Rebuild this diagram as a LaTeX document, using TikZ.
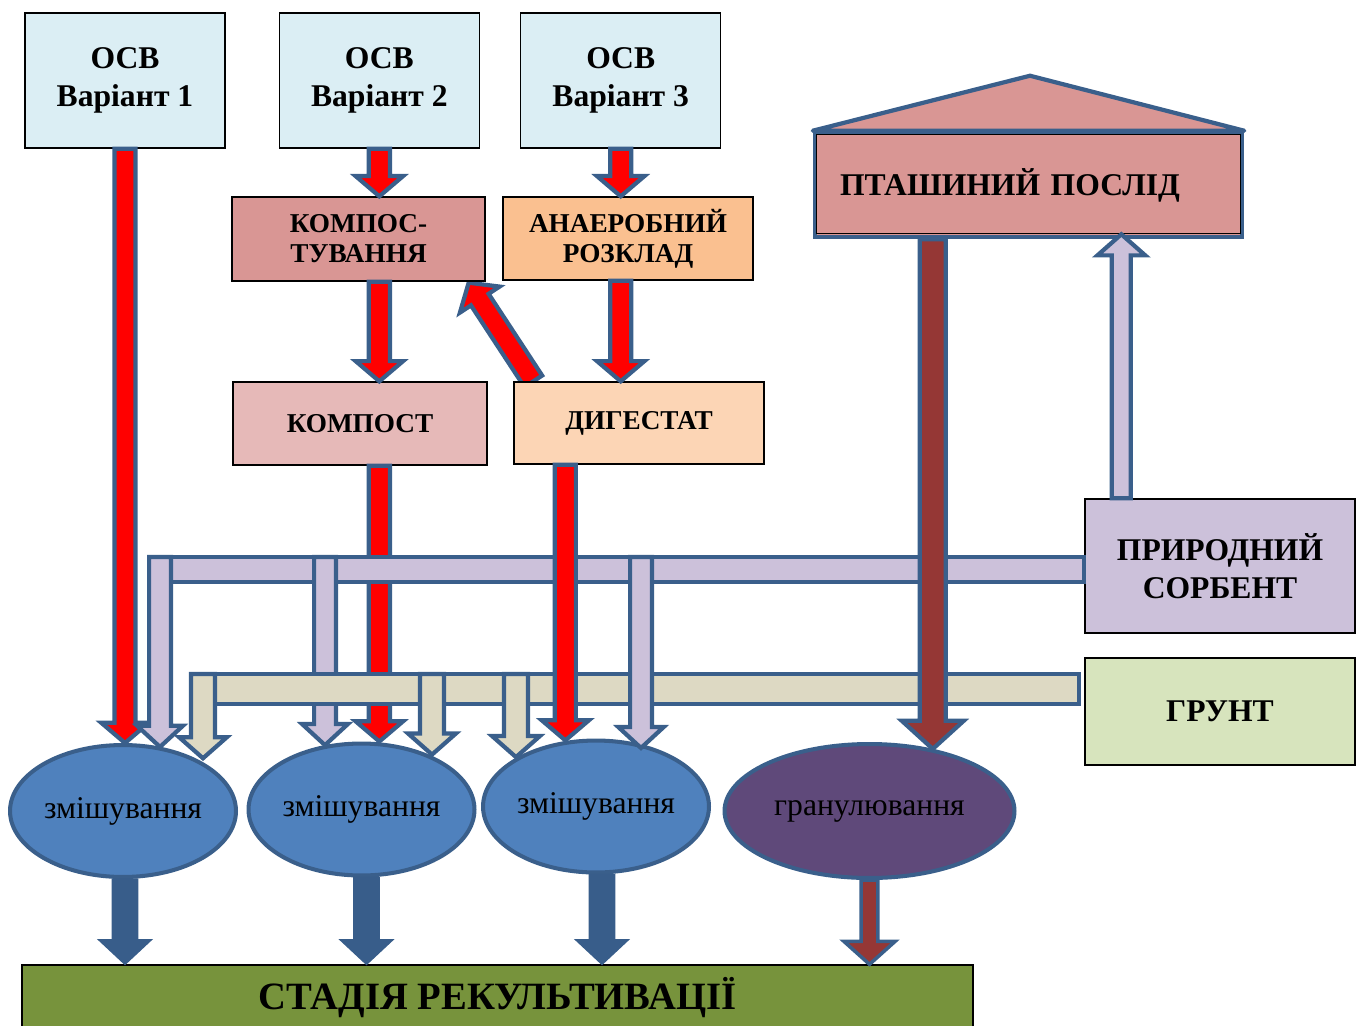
\documentclass[tikz,border=0pt]{standalone}
\usepackage{fontspec}
\setmainfont{Liberation Serif}
\usetikzlibrary{positioning, calc, shapes.geometric, backgrounds}

\definecolor{osvfill}{HTML}{DBEEF4}
\definecolor{kompfill}{HTML}{D99694}
\definecolor{anaerfill}{HTML}{FAC090}
\definecolor{kompostfill}{HTML}{E6B9B8}
\definecolor{digestfill}{HTML}{FCD5B5}
\definecolor{sorbfill}{HTML}{CCC1DA}
\definecolor{gruntfill}{HTML}{D7E4BD}
\definecolor{beigefill}{HTML}{DDD9C3}
\definecolor{mixfill}{HTML}{4F81BD}
\definecolor{granfill}{HTML}{5F497A}
\definecolor{stagefill}{HTML}{77933C}
\definecolor{edgeblue}{HTML}{3A5F8B}
\definecolor{darkblue}{HTML}{385D8A}
\definecolor{brownfill}{HTML}{953735}

\begin{document}
\begin{tikzpicture}[x=0.02cm, y=-0.02cm, node distance=1.06cm,
  box/.style={rectangle, draw=black, line width=0.8pt, align=center, inner sep=2pt},
  bigtext/.style={font=\bfseries\fontsize{18}{21.5}\selectfont},
  smalltext/.style={font=\bfseries\fontsize{15.5}{17}\selectfont},
  mix/.style={ellipse, draw=edgeblue, line width=2.3pt, fill=mixfill, minimum width=4.52cm, minimum height=2.64cm, inner sep=0pt, font=\fontsize{18}{20}\selectfont},
  barrow/.style n args={3}{draw=edgeblue, line width=2.4pt,
    to path={let \p1=(\tikztostart), \p2=(\tikztotarget), \n1={atan2(\y2-\y1,\x2-\x1)} in
      ($(\p1)+({\n1+90}:#1)$) -- ($(\p2)+({\n1+180}:#3)+({\n1+90}:#1)$)
      -- ($(\p2)+({\n1+180}:#3)+({\n1+90}:#2)$) -- (\p2)
      -- ($(\p2)+({\n1+180}:#3)+({\n1-90}:#2)$)
      -- ($(\p2)+({\n1+180}:#3)+({\n1-90}:#1)$)
      -- ($(\p1)+({\n1-90}:#1)$) -- cycle}},
  redarrow/.style={barrow={6pt}{13.5pt}{11.5pt}, fill=red},
  lilarrow/.style={barrow={6.2pt}{13pt}{12pt}, fill=sorbfill},
  beigearrow/.style={barrow={6.8pt}{13.6pt}{12pt}, fill=beigefill},
  outarrow/.style={barrow={7.2pt}{15pt}{14pt}, draw=darkblue, line width=0.8pt, fill=darkblue},
  bus/.style={draw=edgeblue, line width=2.4pt}]
\useasboundingbox (0,0) rectangle (1362,1025);

\node (osv1) [box, bigtext, fill=osvfill, minimum width=4cm, minimum height=2.7cm] at (125,80.5) {ОСВ\\Варіант 1};
\node (osv2) [box, bigtext, fill=osvfill, minimum width=4cm, minimum height=2.7cm, right=of osv1] {ОСВ\\Варіант 2};
\node (osv3) [box, bigtext, fill=osvfill, minimum width=4cm, minimum height=2.7cm, right=0.8cm of osv2] {ОСВ\\Варіант 3};
\node (kompostuv) [box, smalltext, fill=kompfill, minimum width=5.06cm, minimum height=1.68cm] at (358.5,239) {КОМПОС-\\ТУВАННЯ};
\node (anaer) [box, smalltext, fill=anaerfill, minimum width=5cm, minimum height=1.66cm] at (628,238.5) {АНАЕРОБНИЙ\\РОЗКЛАД};
\node (kompost) [box, smalltext, fill=kompostfill, minimum width=5.08cm, minimum height=1.66cm] at (360,423.5) {КОМПОСТ};
\node (digest) [box, smalltext, fill=digestfill, minimum width=5cm, minimum height=1.64cm] at (639,423) {ДИГЕСТАТ};
\node (poslid) [rectangle, draw=edgeblue, line width=2.6pt, fill=kompfill, bigtext, minimum width=8.54cm, minimum height=2.08cm, text width=7.54cm, inner xsep=0.5cm, align=left] at (1028.5,185) {ПТАШИНИЙ ПОСЛІД};
\draw[bus, fill=kompfill, line join=round] (poslid.north west) -- ($(poslid.north)+(1.5,-55)$) -- (poslid.north east) -- cycle;
\draw[line width=0.8pt] ($(poslid.north west)+(4,4)$) rectangle ($(poslid.south east)+(-4,-6)$);
\node (sorb) [box, bigtext, fill=sorbfill, minimum width=5.4cm, minimum height=2.68cm] at (1220,566) {ПРИРОДНИЙ\\СОРБЕНТ};
\node (grunt) [box, bigtext, fill=gruntfill, minimum width=5.4cm, minimum height=2.14cm] at (1220,711.5) {ГРУНТ};
\node (mix1) [mix] at (123,811) {змішування};
\node (mix2) [mix] at (361.5,809.5) {змішування};
\node (mix3) [mix] at (596,806.5) {змішування};
\node (gran) [mix, fill=granfill, minimum width=5.8cm, minimum height=2.68cm] at (869.5,811) {гранулювання};
\node (stage) [box, font=\bfseries\fontsize{22}{24}\selectfont, fill=stagefill, minimum width=19.02cm, minimum height=1.32cm] at (497.5,998) {СТАДІЯ РЕКУЛЬТИВАЦІЇ};

% digestate back to composting
\coordinate (dgtail) at ($(digest.north west)+(20,0)$);
\coordinate (kptip) at ($(kompostuv.south east)+(-17,1)$);
\begin{scope}[on background layer]
  \draw[redarrow] (dgtail) to (kptip);
\end{scope}

\draw[redarrow] (osv1.south) to (osv1.south |- mix1.north);
\draw[redarrow] (osv2.south) to (osv2.south |- kompostuv.north);
\draw[redarrow] (osv2.south |- kompostuv.south) to (osv2.south |- kompost.north);
\draw[redarrow] (osv3.south) to (osv3.south |- anaer.north);
\draw[redarrow] (osv3.south |- anaer.south) to (osv3.south |- digest.north);
\draw[redarrow] (osv2.south |- kompost.south) to (osv2.south |- mix2.north);

% sorbent
\coordinate (sb1) at (160,557);
\coordinate (sb2) at (325,557);
\coordinate (sb3) at (641,557);
\draw[bus, fill=sorbfill] ($(sorb.west)+(0,-9)$) rectangle ($(sorb.west)+(-935,16)$);
\draw[lilarrow] (sb1) to (sb1 |- mix1.59);
\draw[lilarrow] (sb2) to (sb2 |- mix2.120);

% grunt
\coordinate (gb1) at (203,674);
\coordinate (gb2) at (432,674);
\coordinate (gb3) at (516,674);
\draw[bus, fill=beigefill] ($(grunt.west)+(-5,-37.5)$) rectangle ($(grunt.west)+(-891,-7.5)$);
\draw[beigearrow] (gb1) to (gb1 |- mix1.36);
\draw[beigearrow] (gb2) to (gb2 |- mix2.39);
\draw[beigearrow] (gb3) to (gb3 |- mix3.148);
\draw[lilarrow] (sb3) to (sb3 |- mix3.45);

\coordinate (dgout) at ($(digest.south west)+(52,0)$);
\draw[redarrow] (dgout) to (dgout |- mix3.112);
\coordinate (psout) at ($(poslid.south west)+(120,0)$);
\draw[barrow={7.4pt}{17.6pt}{16pt}, fill=brownfill] (psout) to (psout |- gran.44);
\coordinate (sbup) at ($(sorb.north west)+(37,0)$);
\draw[barrow={5.4pt}{13.6pt}{12pt}, fill=sorbfill] (sbup) to ($(sbup |- poslid.south)+(0,-5)$);

% to recultivation
\coordinate (out1) at ($(mix1.south)+(2,0)$);
\coordinate (out2) at ($(mix2.south)+(5,0)$);
\coordinate (out3) at ($(mix3.south)+(6,0)$);
\draw[outarrow] (out1) to (out1 |- stage.north);
\draw[outarrow] (out2) to (out2 |- stage.north);
\draw[outarrow] (out3) to (out3 |- stage.north);
\draw[barrow={4.8pt}{14.5pt}{13pt}, line width=2pt, fill=brownfill] (gran.south) to (gran.south |- stage.north);
\end{tikzpicture}
\end{document}
